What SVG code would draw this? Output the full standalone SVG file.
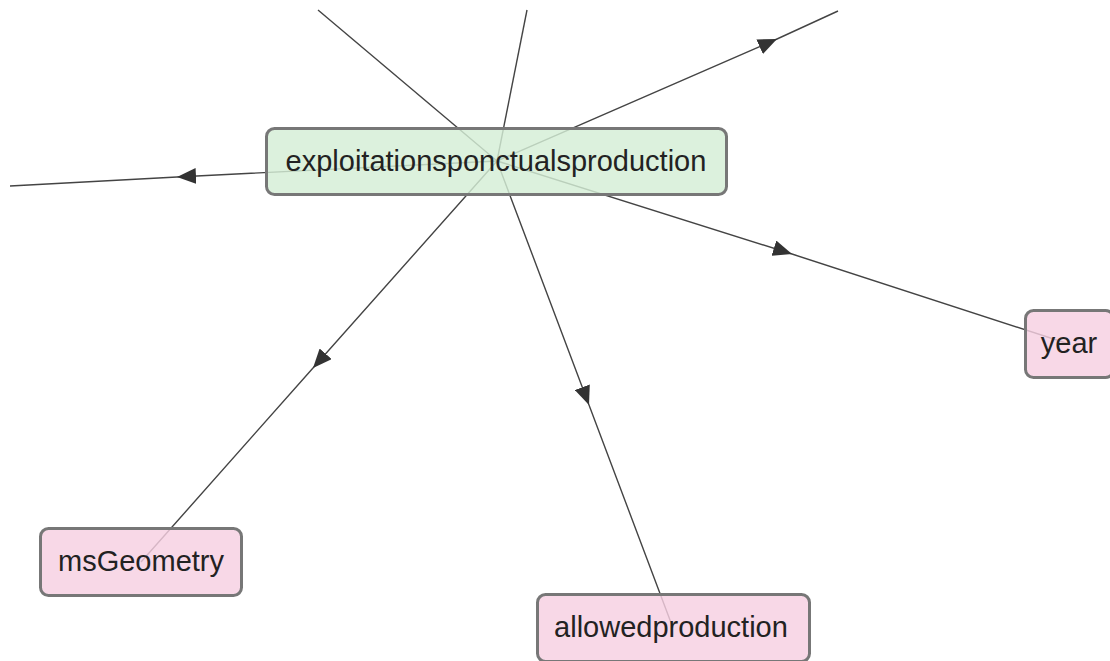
<svg xmlns="http://www.w3.org/2000/svg" width="1110" height="661" viewBox="0 0 1110 661">
  <style>
    .edge { fill: none; stroke: #444; stroke-width: 1.4; marker-mid: url(#arrow); }
    .plain { fill: none; stroke: #444; stroke-width: 1.4; }
    .box { stroke: #777; stroke-width: 3; fill-opacity: 0.82; }
    .class { fill: #d4eed6; }
    .attr { fill: #f6cfe2; }
    .label { font-family: "Liberation Sans", Arial, sans-serif; font-size: 29px; fill: #222; text-anchor: middle; }
  </style>
  <defs>
    <marker id="arrow" markerUnits="userSpaceOnUse" markerWidth="20" markerHeight="16" refX="19" refY="8" orient="auto">
      <path d="M0,0 L19,8 L0,16 z" fill="#333"/>
    </marker>
  </defs>
  <rect width="1110" height="661" fill="#fff"/>

  <g id="connectors">
    <!-- incoming links from nodes above -->
    <path class="plain" d="M318,10 L497,161"/>
    <path class="plain" d="M527,10 L497,161"/>
    <!-- outgoing links -->
    <path class="edge" d="M497,161 L777,39 L838,11"/>
    <path class="edge" d="M497,161 L177,177 L10,186"/>
    <path class="edge" d="M497,161 L792,254 L1069,344"/>
    <path class="edge" d="M497,161 L313,368 L141,562"/>
    <path class="edge" d="M497,161 L589,405 L673,628"/>
  </g>

  <g id="exploitationsponctualsproduction">
    <rect class="box class" x="266.5" y="128.5" width="460" height="66" rx="8"/>
    <text class="label" x="496" y="171">exploitationsponctualsproduction</text>
  </g>

  <g id="year">
    <rect class="box attr" x="1025.5" y="310.5" width="88" height="67" rx="8"/>
    <text class="label" x="1069" y="353">year</text>
  </g>

  <g id="msGeometry">
    <rect class="box attr" x="40.5" y="528.5" width="201" height="67" rx="8"/>
    <text class="label" x="141" y="571">msGeometry</text>
  </g>

  <g id="allowedproduction">
    <rect class="box attr" x="537.5" y="594.5" width="272" height="67" rx="8"/>
    <text class="label" x="671" y="637">allowedproduction</text>
  </g>
</svg>
